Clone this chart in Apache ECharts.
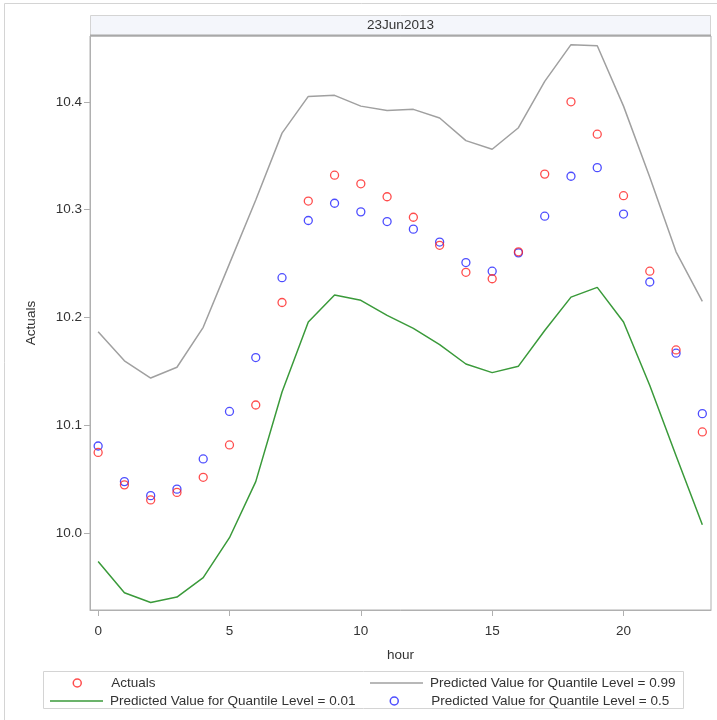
<!DOCTYPE html>
<html>
<head>
<meta charset="utf-8">
<script src="https://cdn.jsdelivr.net/npm/echarts@6/dist/echarts.min.js"></script>
<style>
html,body{margin:0;padding:0;background:#fff;}
#chart{width:717px;height:720px;}
</style>
</head>
<body>
<div id="chart"></div>
<script>
var hours = [0,1,2,3,4,5,6,7,8,9,10,11,12,13,14,15,16,17,18,19,20,21,22,23];
var actuals = [10.075,10.045,10.031,10.038,10.052,10.082,10.119,10.214,10.308,10.332,10.324,10.312,10.293,10.267,10.242,10.236,10.261,10.333,10.400,10.370,10.313,10.243,10.170,10.094];
var q01 = [9.974,9.945,9.936,9.941,9.959,9.996,10.048,10.131,10.196,10.221,10.216,10.202,10.190,10.175,10.157,10.149,10.155,10.188,10.219,10.228,10.196,10.137,10.072,10.008];
var q99 = [10.187,10.160,10.144,10.154,10.191,10.250,10.309,10.371,10.405,10.406,10.396,10.392,10.393,10.385,10.364,10.356,10.376,10.419,10.453,10.452,10.396,10.330,10.261,10.215];
var q50 = [10.081,10.048,10.035,10.041,10.069,10.113,10.163,10.237,10.290,10.306,10.298,10.289,10.282,10.270,10.251,10.243,10.260,10.294,10.331,10.339,10.296,10.233,10.167,10.111];
var xTicks = [0,5,10,15,20];
var yTicks = [10.0,10.1,10.2,10.3,10.4];
var panelTitle = '23Jun2013';
var names = ['Actuals','Predicted Value for Quantile Level = 0.01','Predicted Value for Quantile Level = 0.99','Predicted Value for Quantile Level = 0.5'];

function pairs(xs, ys){ return xs.map(function(x,i){ return [x, ys[i]]; }); }

var FONT = '"Liberation Sans", Arial, sans-serif';
var FS = 13.5;
var AX = '#b0b0b0';
var TXT = '#333333';

var chart = echarts.init(document.getElementById('chart'), null, {renderer:'canvas'});
function legendCfg(item, left, top, iw, ih, padLeft, extra){
  var l = {
    data:[item], left:left, top:top, orient:'horizontal', padding:0,
    itemWidth:iw, itemHeight:ih, selectedMode:false,
    textStyle:{fontFamily:FONT, fontSize:FS, color:TXT, lineHeight:14, padding:[0,0,0,padLeft]}
  };
  if (extra) l.itemStyle = extra;
  return l;
}
chart.setOption({
  animation:false,
  backgroundColor:'#ffffff',
  grid:{left:90, right:6, top:36, bottom:110, show:true, borderColor:AX, borderWidth:1, backgroundColor:'transparent'},
  xAxis:{
    type:'value', min:-0.31, max:23.33,
    name:'hour', nameLocation:'middle', nameGap:38,
    nameTextStyle:{fontFamily:FONT, fontSize:FS, color:TXT},
    axisLine:{show:true, onZero:false, lineStyle:{color:AX, width:1}},
    axisTick:{show:true, length:6, customValues:xTicks, lineStyle:{color:AX}},
    axisLabel:{customValues:xTicks, margin:14, fontFamily:FONT, fontSize:FS, color:TXT},
    splitLine:{show:false}
  },
  yAxis:{
    type:'value', min:9.929, max:10.461,
    name:'Actuals', nameLocation:'middle', nameGap:52, nameRotate:90,
    nameTextStyle:{fontFamily:FONT, fontSize:FS, color:TXT},
    axisLine:{show:true, onZero:false, lineStyle:{color:AX, width:1}},
    axisTick:{show:true, length:6, customValues:yTicks, lineStyle:{color:AX}},
    axisLabel:{customValues:yTicks, margin:8, fontFamily:FONT, fontSize:FS, color:TXT,
      formatter:function(v){ return v.toFixed(1); }},
    splitLine:{show:false}
  },
  legend:[
    legendCfg({name:names[0], icon:'circle'}, 72.5, 676, 8, 8, 25, {borderWidth:1.5}),
    legendCfg({name:names[1], icon:'rect'}, 50, 694, 53, 1.5, 2),
    legendCfg({name:names[2], icon:'rect'}, 370, 676, 53, 1.5, 2),
    legendCfg({name:names[3], icon:'circle'}, 389.5, 694, 8, 8, 28, {borderWidth:1.5})
  ],
  graphic:[
    {type:'rect', silent:true, z:-1, shape:{x:4.5, y:3.5, width:800, height:800}, style:{fill:'none', stroke:'#d4d4d4', lineWidth:1}},
    {type:'rect', silent:true, shape:{x:90.5, y:15.5, width:620, height:20}, style:{fill:'#f4f6fb', stroke:'#d4d4d4', lineWidth:1}},
    {type:'line', silent:true, shape:{x1:90, y1:35.5, x2:711, y2:35.5}, style:{stroke:'#a8a8a8', lineWidth:2}},
    {type:'text', silent:true, x:400.5, y:25.5, style:{text:panelTitle, fontFamily:FONT, fontSize:FS, fill:TXT, align:'center', verticalAlign:'middle'}},
    {type:'rect', silent:true, shape:{x:43.5, y:671.5, width:640, height:37}, style:{fill:'none', stroke:'#d4d4d4', lineWidth:1}}
  ],
  series:[
    {name:names[0], type:'scatter', data:pairs(hours, actuals), symbol:'circle', symbolSize:8,
      itemStyle:{color:'rgba(255,255,255,0)', borderColor:'#ff2020', borderWidth:1.3}, z:4},
    {name:names[1], type:'line', data:pairs(hours, q01), symbol:'none', showSymbol:false,
      lineStyle:{color:'#3a9a3a', width:1.5}, itemStyle:{color:'#3a9a3a'}, z:2},
    {name:names[2], type:'line', data:pairs(hours, q99), symbol:'none', showSymbol:false,
      lineStyle:{color:'#a0a0a0', width:1.5}, itemStyle:{color:'#a0a0a0'}, z:2},
    {name:names[3], type:'scatter', data:pairs(hours, q50), symbol:'circle', symbolSize:8,
      itemStyle:{color:'rgba(255,255,255,0)', borderColor:'#2020ff', borderWidth:1.3}, z:3}
  ]
});
</script>
</body>
</html>
